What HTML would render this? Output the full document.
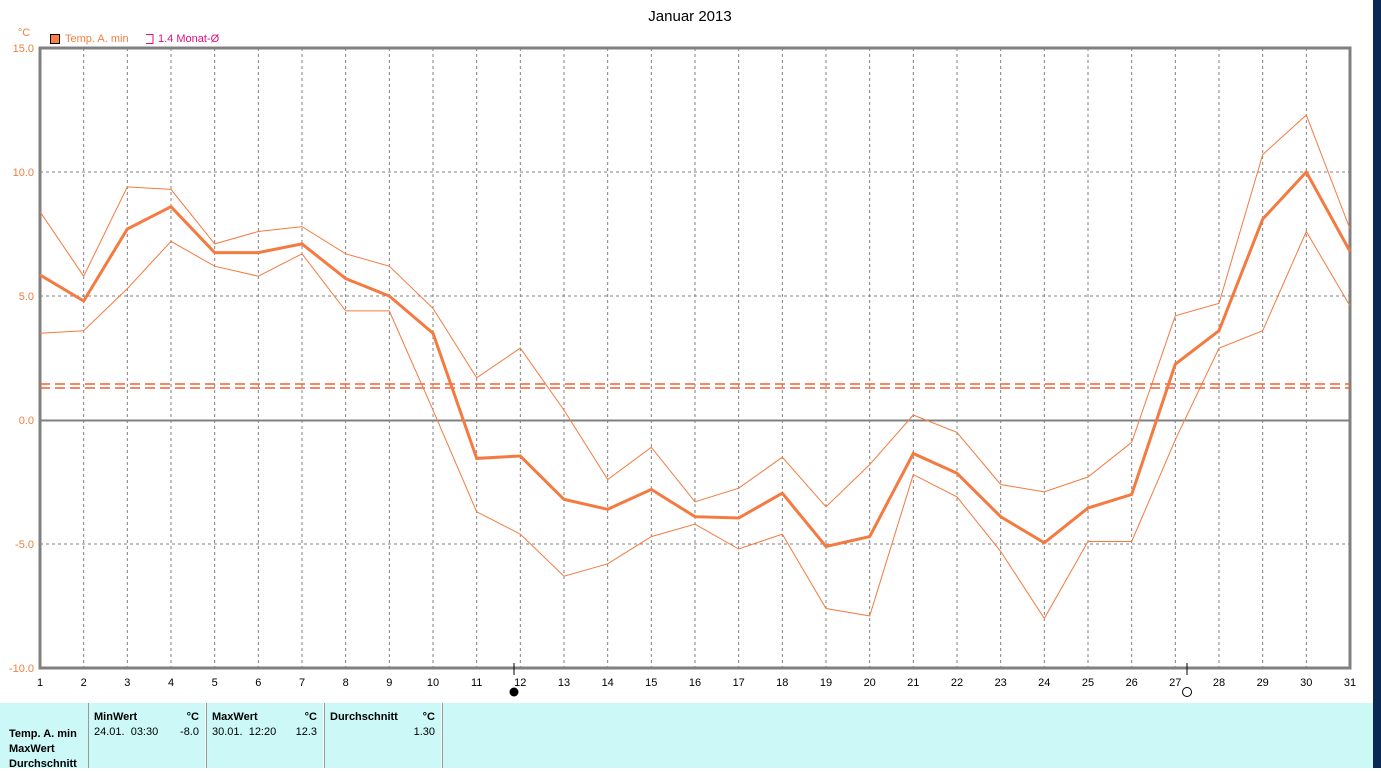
<!DOCTYPE html>
<html><head><meta charset="utf-8"><style>
body{margin:0;width:1381px;height:768px;overflow:hidden;background:#fff;font-family:"Liberation Sans",sans-serif;}
svg{position:absolute;left:0;top:0}
.tb{position:absolute;top:703px;height:65px;background:#ccf8f8;font-size:11px;}
</style></head><body>
<svg width="1381" height="768" id="s" font-family="Liberation Sans, sans-serif">
<rect x="1373" y="0" width="8" height="768" fill="#0a2a55"/>
<text x="690" y="21" font-size="15" text-anchor="middle" fill="#000">Januar 2013</text>
<text x="24" y="36" font-size="11" text-anchor="middle" fill="#f08040">°C</text>
<rect x="50.5" y="34.5" width="9" height="9" fill="#ff8040" stroke="#000"/>
<text x="65" y="42" font-size="11" fill="#f08040">Temp. A. min</text>
<path d="M146 34.5h7v9h-7" fill="none" stroke="#e0107a"/>
<text x="158" y="42" font-size="11" fill="#e0107a">1.4 Monat-Ø</text>
<g font-size="11" fill="#f08040" text-anchor="end">
<text x="34" y="52">15.0</text><text x="34" y="176">10.0</text><text x="34" y="300">5.0</text><text x="34" y="424">0.0</text><text x="34" y="548">-5.0</text><text x="34" y="672">-10.0</text>
</g>
<g id="grid" stroke="#808080" stroke-dasharray="3,3" stroke-width="1"></g>
<line x1="40" y1="420.5" x2="1350" y2="420.5" stroke="#808080" stroke-width="2"/>
<rect x="40" y="48" width="1310" height="620" fill="none" stroke="#808080" stroke-width="3"/>
<line x1="40" y1="384" x2="1350" y2="384" stroke="#f06030" stroke-dasharray="10,5" stroke-width="1.5"/>
<line x1="40" y1="388" x2="1350" y2="388" stroke="#f06030" stroke-dasharray="10,5" stroke-width="1.5"/>
<g id="ser" fill="none" stroke="#f47a40"></g>
<line x1="514" y1="663" x2="514" y2="675" stroke="#000"/>
<line x1="1187" y1="663" x2="1187" y2="675" stroke="#000"/>
<circle cx="514" cy="692" r="4.5" fill="#000"/>
<circle cx="1187" cy="692" r="4.5" fill="none" stroke="#000"/>
<g font-size="11" text-anchor="middle" fill="#000">
<text x="40" y="686">1</text><text x="83.7" y="686">2</text><text x="127.3" y="686">3</text><text x="171" y="686">4</text><text x="214.7" y="686">5</text><text x="258.3" y="686">6</text><text x="302" y="686">7</text><text x="345.7" y="686">8</text><text x="389.3" y="686">9</text><text x="433" y="686">10</text><text x="476.7" y="686">11</text><text x="520.3" y="686">12</text><text x="564" y="686">13</text><text x="607.7" y="686">14</text><text x="651.3" y="686">15</text><text x="695" y="686">16</text><text x="738.7" y="686">17</text><text x="782.3" y="686">18</text><text x="826" y="686">19</text><text x="869.7" y="686">20</text><text x="913.3" y="686">21</text><text x="957" y="686">22</text><text x="1000.7" y="686">23</text><text x="1044.3" y="686">24</text><text x="1088" y="686">25</text><text x="1131.7" y="686">26</text><text x="1175.3" y="686">27</text><text x="1219" y="686">28</text><text x="1262.7" y="686">29</text><text x="1306.3" y="686">30</text><text x="1350" y="686">31</text>
</g>
</svg>
<div class="tb" style="left:0;width:88px;font-weight:bold;"><div style="position:absolute;left:9px;top:24px;line-height:15px">Temp. A. min<br>MaxWert<br>Durchschnitt</div></div>
<div class="tb" style="left:89px;width:116px;"><b style="position:absolute;left:5px;top:8px">MinWert</b><b style="position:absolute;right:6px;top:8px">°C</b><span style="position:absolute;left:5px;top:23px">24.01.&nbsp; 03:30</span><span style="position:absolute;right:6px;top:23px">-8.0</span></div>
<div class="tb" style="left:207px;width:116px;"><b style="position:absolute;left:5px;top:8px">MaxWert</b><b style="position:absolute;right:6px;top:8px">°C</b><span style="position:absolute;left:5px;top:23px">30.01.&nbsp; 12:20</span><span style="position:absolute;right:6px;top:23px">12.3</span></div>
<div class="tb" style="left:325px;width:116px;"><b style="position:absolute;left:5px;top:8px">Durchschnitt</b><b style="position:absolute;right:6px;top:8px">°C</b><span style="position:absolute;right:6px;top:23px">1.30</span></div>
<div class="tb" style="left:443px;width:930px;"></div>
<div style="position:absolute;left:88px;top:703px;width:1px;height:65px;background:#999"></div>
<div style="position:absolute;left:206px;top:703px;width:1px;height:65px;background:#999"></div>
<div style="position:absolute;left:324px;top:703px;width:1px;height:65px;background:#999"></div>
<div style="position:absolute;left:442px;top:703px;width:1px;height:65px;background:#999"></div>
<script>
var ns="http://www.w3.org/2000/svg";
function X(d){return 40+(d-1)*1310/30}
function Y(v){return 420-24.8*v}
var g=document.getElementById('grid');
for(var d=2;d<=30;d++){var l=document.createElementNS(ns,'line');l.setAttribute('x1',X(d));l.setAttribute('x2',X(d));l.setAttribute('y1',48);l.setAttribute('y2',668);g.appendChild(l);}
[10,5,-5].forEach(function(v){var l=document.createElementNS(ns,'line');l.setAttribute('x1',40);l.setAttribute('x2',1350);l.setAttribute('y1',Y(v));l.setAttribute('y2',Y(v));g.appendChild(l);});
var mid=[5.85,4.8,7.7,8.6,6.75,6.75,7.1,5.7,5.0,3.5,-1.55,-1.45,-3.2,-3.6,-2.8,-3.9,-3.95,-2.95,-5.1,-4.7,-1.35,-2.15,-3.9,-4.95,-3.55,-3.0,2.25,3.6,8.1,10.0,6.8];
var up=[8.4,5.8,9.4,9.3,7.1,7.6,7.8,6.7,6.2,4.5,1.7,2.9,0.4,-2.4,-1.1,-3.3,-2.75,-1.5,-3.5,-1.8,0.2,-0.5,-2.6,-2.9,-2.3,-0.9,4.2,4.7,10.7,12.3,7.7];
var lo=[3.5,3.6,5.3,7.2,6.2,5.8,6.7,4.4,4.4,0.4,-3.7,-4.6,-6.3,-5.8,-4.7,-4.2,-5.2,-4.6,-7.6,-7.9,-2.2,-3.1,-5.3,-8.0,-4.9,-4.9,-0.8,2.9,3.6,7.6,4.6];
var s=document.getElementById('ser');
[[up,1],[lo,1],[mid,3]].forEach(function(a){var p=document.createElementNS(ns,'polyline');p.setAttribute('points',a[0].map(function(v,i){return X(i+1).toFixed(1)+','+Y(v).toFixed(1)}).join(' '));p.setAttribute('stroke-width',a[1]);s.appendChild(p);});
</script>
</body></html>
